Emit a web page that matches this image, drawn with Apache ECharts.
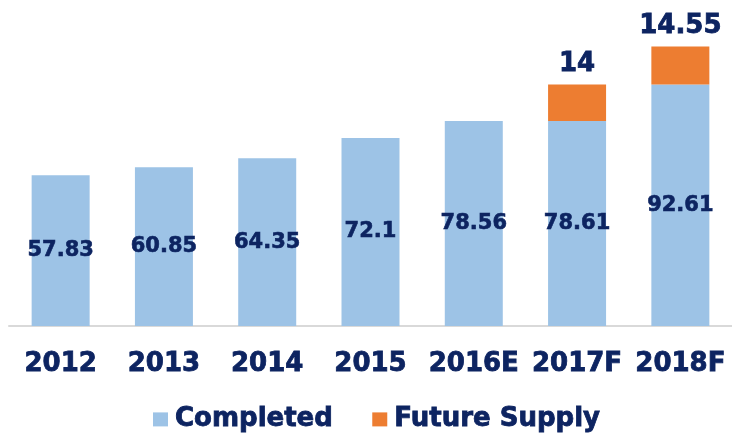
<!DOCTYPE html>
<html>
<head>
<meta charset="utf-8">
<script src="https://cdn.jsdelivr.net/npm/echarts@6/dist/echarts.min.js"></script>
<style>
html,body{margin:0;padding:0;background:#fff;}
#main{width:732px;height:433px;}
</style>
</head>
<body>
<div id="main"></div>
<script>
// data
var years=['2012','2013','2014','2015','2016E','2017F','2018F'];
var completed=[57.83,60.85,64.35,72.1,78.56,78.61,92.61];
var futureSupply=['-','-','-','-','-',14,14.55];

var navy='#0d2461';
var font='DejaVu Sans';

var myChart=echarts.init(document.getElementById('main'));
var option={
    animation:false,
    grid:{left:9,right:-3,top:0,bottom:107},
    legend:{
        top:401,
        left:148,
        itemWidth:15,
        itemHeight:14,
        itemGap:39,
        icon:'rect',
        textStyle:{color:navy,fontSize:26,fontWeight:'bold',fontFamily:font,padding:[0,0,0,2],
            textBorderColor:navy,textBorderWidth:0.8},
        data:['Completed','Future Supply']
    },
    xAxis:{
        type:'category',
        data:years,
        axisLine:{lineStyle:{color:'#d9d9d9',width:2}},
        axisTick:{show:false},
        axisLabel:{interval:0,color:navy,fontSize:26,fontWeight:'bold',fontFamily:font,margin:25,
            textBorderColor:navy,textBorderWidth:0.8}
    },
    yAxis:{
        type:'value',
        min:0,
        max:125,
        show:false,
        splitLine:{show:false}
    },
    series:[
        {
            name:'Completed',
            type:'bar',
            stack:'s',
            barWidth:58,
            data:completed,
            itemStyle:{color:'#9dc3e6'},
            label:{show:true,position:'inside',color:navy,fontSize:21,fontWeight:'bold',fontFamily:font,
                textBorderColor:navy,textBorderWidth:0.6}
        },
        {
            name:'Future Supply',
            type:'bar',
            stack:'s',
            barWidth:58,
            data:futureSupply,
            itemStyle:{color:'#ed7d31'},
            label:{show:true,position:'top',distance:7,color:navy,fontSize:26,fontWeight:'bold',fontFamily:font,
                textBorderColor:navy,textBorderWidth:0.8}
        }
    ]
};
myChart.setOption(option);
</script>
</body>
</html>
